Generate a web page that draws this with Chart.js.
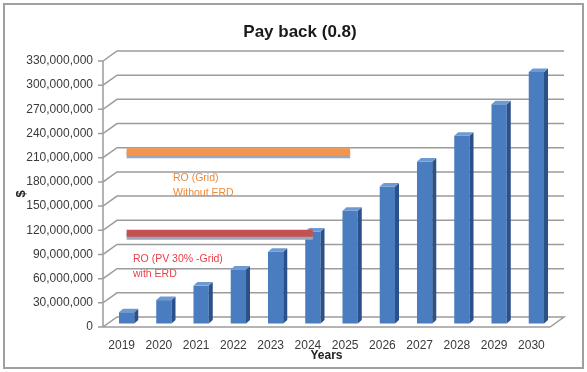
<!DOCTYPE html>
<html>
<head>
<meta charset="utf-8">
<title>Pay back (0.8)</title>
<script src="https://cdn.jsdelivr.net/npm/chart.js@4/dist/chart.umd.min.js"></script>
<style>
  html, body { margin: 0; padding: 0; background: #fff; }
  canvas { display: block; }
</style>
</head>
<body>
<canvas id="payback" width="587" height="372"></canvas>
<script>
const years = ['2019', '2020', '2021', '2022', '2023', '2024', '2025', '2026', '2027', '2028', '2029', '2030'];
const payback = [14000000, 29000000, 47000000, 67000000, 89000000, 114000000, 140000000, 170000000, 201000000, 233000000, 272000000, 312000000];
// investment of each RO option, drawn up to its payback year
const roGrid = [213000000, 213000000, 213000000, 213000000, 213000000, 213000000, 213000000];
const roPvGrid = [112000000, 112000000, 112000000, 112000000, 112000000, 112000000];
const yMax = 330000000;
const yStep = 30000000;

// 3D look: box depth, how far the columns sit behind the front edge, column thickness
const DEPTH = { dx: 14, dy: -10 };
const SHIFT = { dx: 5, dy: -3.5 };
const COL = { dx: 4, dy: -3.5 };

const FONT = "'Liberation Sans', Arial, sans-serif";
Chart.defaults.font.family = FONT;
Chart.defaults.color = '#3a3a3a';

const box3d = {
  id: 'box3d',
  beforeDraw(chart) {
    const ctx = chart.ctx;
    ctx.save();
    ctx.strokeStyle = '#a0a0a0';
    ctx.lineWidth = 2;
    ctx.strokeRect(4, 4, chart.width - 8, chart.height - 8);
    // title sits centred on the whole frame, not on the plot
    ctx.fillStyle = '#1a1a1a';
    ctx.font = 'bold 17px ' + FONT;
    ctx.textAlign = 'center';
    ctx.textBaseline = 'middle';
    ctx.fillText('Pay back (0.8)', 300, 32);
    ctx.restore();
  },
  beforeDatasetsDraw(chart) {
    const ctx = chart.ctx;
    const { left, right, bottom } = chart.chartArea;
    const y = chart.scales.y;

    // notes next to the cost levels
    ctx.save();
    ctx.font = '10.5px ' + FONT;
    ctx.textBaseline = 'middle';
    ctx.fillStyle = '#ec8a3c';
    ctx.fillText('RO (Grid)', 173, 178);
    ctx.fillText('Without ERD', 173, 193);
    ctx.fillStyle = '#e8404a';
    ctx.fillText('RO (PV 30% -Grid)', 133, 259);
    ctx.fillText('with ERD', 133, 274);
    ctx.restore();

    ctx.save();
    ctx.strokeStyle = '#9c9c9c';
    ctx.lineWidth = 1.5;
    ctx.beginPath();
    // floor
    ctx.moveTo(left, bottom);
    ctx.lineTo(right, bottom);
    ctx.lineTo(right + DEPTH.dx, bottom + DEPTH.dy);
    ctx.lineTo(left + DEPTH.dx, bottom + DEPTH.dy);
    ctx.closePath();
    // side wall and back wall gridlines
    y.ticks.forEach(t => {
      const py = y.getPixelForValue(t.value);
      ctx.moveTo(left - 5, py);
      ctx.lineTo(left, py);
      if (t.value > 0) {
        ctx.lineTo(left + DEPTH.dx, py + DEPTH.dy);
        ctx.lineTo(right + DEPTH.dx, py + DEPTH.dy);
      }
    });
    ctx.moveTo(left, bottom);
    ctx.lineTo(left, y.getPixelForValue(yMax));
    ctx.stroke();
    ctx.restore();
  },
  beforeDatasetDraw(chart, args) {
    const ctx = chart.ctx;
    ctx.save();
    ctx.translate(SHIFT.dx, SHIFT.dy);
    if (args.meta.type === 'line') {
      ctx.shadowColor = '#98a8bf';
      ctx.shadowOffsetY = 3;
      ctx.shadowBlur = 0;
    }
  },
  afterDatasetDraw(chart, args) {
    const ctx = chart.ctx;
    if (args.meta.type === 'bar') {
      args.meta.data.forEach(bar => {
        const { x, y, base, width } = bar.getProps(['x', 'y', 'base', 'width'], true);
        const l = x - width / 2, r = x + width / 2;
        ctx.fillStyle = '#2c5188';
        ctx.beginPath();
        ctx.moveTo(r, y);
        ctx.lineTo(r + COL.dx, y + COL.dy);
        ctx.lineTo(r + COL.dx, base + COL.dy);
        ctx.lineTo(r, base);
        ctx.closePath();
        ctx.fill();
        ctx.fillStyle = '#6e9ad4';
        ctx.beginPath();
        ctx.moveTo(l, y);
        ctx.lineTo(l + COL.dx, y + COL.dy);
        ctx.lineTo(r + COL.dx, y + COL.dy);
        ctx.lineTo(r, y);
        ctx.closePath();
        ctx.fill();
      });
    }
    ctx.restore();
  }
};

new Chart(document.getElementById('payback'), {
  type: 'bar',
  data: {
    labels: years,
    datasets: [
      {
        type: 'line',
        label: 'RO (Grid) Without ERD',
        data: roGrid,
        borderColor: '#f5954a',
        borderWidth: 7,
        borderCapStyle: 'butt',
        pointRadius: 0,
        clip: false,
        order: 0
      },
      {
        type: 'line',
        label: 'RO (PV 30% -Grid) with ERD',
        data: roPvGrid,
        borderColor: '#c4514f',
        borderWidth: 7,
        borderCapStyle: 'butt',
        pointRadius: 0,
        clip: false,
        order: 0
      },
      {
        label: 'Pay back',
        data: payback,
        backgroundColor: '#4a7cc0',
        categoryPercentage: 1,
        barPercentage: 0.41,
        clip: false,
        order: 1
      }
    ]
  },
  options: {
    responsive: false,
    animation: false,
    events: [],
    layout: { padding: { left: 8, right: 37, top: 61, bottom: 8 } },
    plugins: {
      legend: { display: false },
      tooltip: { enabled: false },
      title: { display: false }
    },
    scales: {
      x: {
        grid: { display: false, drawTicks: false },
        border: { display: false },
        ticks: { padding: 11, font: { size: 12 } },
        title: {
          display: true,
          text: 'Years',
          color: '#222',
          font: { size: 12, weight: 'bold' },
          padding: { top: 0, bottom: 1 }
        },
        afterFit: s => { s.height = 37; }
      },
      y: {
        min: 0,
        max: yMax,
        grid: { display: false, drawTicks: false },
        border: { display: false },
        ticks: {
          stepSize: yStep,
          padding: 10,
          font: { size: 12 },
          callback: v => v.toLocaleString('en-US')
        },
        title: {
          display: true,
          text: '$',
          color: '#222',
          font: { size: 13, weight: 'bold' },
          padding: { top: 6, bottom: 0 }
        },
        afterFit: s => { s.width = 95; }
      }
    }
  },
  plugins: [box3d]
});
</script>
</body>
</html>
